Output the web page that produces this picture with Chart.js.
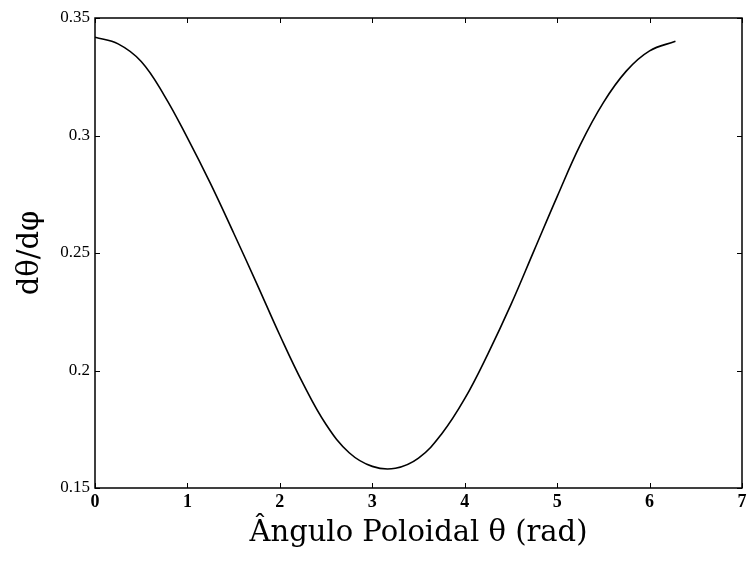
<!DOCTYPE html>
<html>
<head>
<meta charset="utf-8">
<script src="https://cdn.jsdelivr.net/npm/chart.js@4.4.1/dist/chart.umd.min.js"></script>
<style>
  html, body { margin: 0; padding: 0; background: #fff; }
  #wrap { width: 752px; height: 565px; }
</style>
</head>
<body>
<div id="wrap"><canvas id="c" width="752" height="565"></canvas></div>
<script>
// Poloidal angle theta (rad)
const theta = [0, 0.25, 0.5, 0.75, 1.0, 1.25, 1.5, 1.75, 2.0, 2.25, 2.5, 2.75, 3.0, 3.25, 3.5, 3.75, 4.0, 4.25, 4.5, 4.75, 5.0, 5.25, 5.5, 5.75, 6.0, 6.28];
// d theta / d phi
const dthetaDphi = [0.3418, 0.3390, 0.3315, 0.3170, 0.2990, 0.2795, 0.2585, 0.2370, 0.2150, 0.1945, 0.1770, 0.1650, 0.1592, 0.1584, 0.1627, 0.1730, 0.1880, 0.2070, 0.2280, 0.2510, 0.2740, 0.2960, 0.3140, 0.3275, 0.3360, 0.3401];
const xTickLabels = ['0', '1', '2', '3', '4', '5', '6', '7'];
const yTickLabels = ['0.15', '0.2', '0.25', '0.3', '0.35'];
const xTitle = 'Ângulo Poloidal θ (rad)';
const yTitle = 'dθ/dφ';

const points = theta.map((t, i) => ({ x: t, y: dthetaDphi[i] }));

const boxTicks = {
  id: 'boxTicks',
  afterDraw(chart) {
    const { ctx, chartArea: a, scales } = chart;
    ctx.save();
    ctx.strokeStyle = '#000';
    ctx.lineWidth = 1.5;
    ctx.strokeRect(a.left, a.top, a.right - a.left, a.bottom - a.top);
    ctx.lineWidth = 1;
    const L = 5;
    scales.x.ticks.forEach((t, i) => {
      const px = Math.round(scales.x.getPixelForTick(i)) + 0.5;
      ctx.beginPath();
      ctx.moveTo(px, a.bottom); ctx.lineTo(px, a.bottom - L);
      ctx.moveTo(px, a.top); ctx.lineTo(px, a.top + L);
      ctx.stroke();
    });
    scales.y.ticks.forEach((t, i) => {
      const py = Math.round(scales.y.getPixelForTick(i)) + 0.5;
      ctx.beginPath();
      ctx.moveTo(a.left, py); ctx.lineTo(a.left + L, py);
      ctx.moveTo(a.right, py); ctx.lineTo(a.right - L, py);
      ctx.stroke();
    });
    ctx.restore();
  }
};

new Chart(document.getElementById('c'), {
  type: 'scatter',
  data: {
    datasets: [{
      data: points,
      showLine: true,
      borderColor: '#000',
      borderWidth: 1.6,
      pointRadius: 0,
      tension: 0.4,
      fill: false
    }]
  },
  options: {
    responsive: false,
    animation: false,
    layout: { padding: { top: 18, right: 10, left: 0, bottom: 0 } },
    plugins: { legend: { display: false }, tooltip: { enabled: false } },
    scales: {
      x: {
        type: 'linear',
        min: 0, max: 7,
        afterFit(s) { s.height = 77; },
        ticks: {
          stepSize: 1,
          color: '#000',
          padding: 4,
          font: { family: 'Liberation Serif', size: 18, weight: 'bold' },
          callback: (v) => xTickLabels[Math.round(v)]
        },
        grid: { display: false, drawTicks: false, tickLength: 0 },
        border: { display: false },
        title: {
          display: true,
          text: xTitle,
          color: '#000',
          font: { family: 'DejaVu Serif', size: 29 },
          padding: { top: 0, bottom: 14 }
        }
      },
      y: {
        type: 'linear',
        min: 0.15, max: 0.35,
        afterFit(s) { s.width = 95; },
        ticks: {
          stepSize: 0.05,
          color: '#000',
          padding: 5,
          font: { family: 'Liberation Serif', size: 17 },
          callback: (v) => yTickLabels[Math.round((v - 0.15) / 0.05)]
        },
        grid: { display: false, drawTicks: false, tickLength: 0 },
        border: { display: false },
        title: {
          display: true,
          text: yTitle,
          color: '#000',
          font: { family: 'DejaVu Serif', size: 29 },
          padding: { top: 13, bottom: 0 }
        }
      }
    }
  },
  plugins: [boxTicks]
});
</script>
</body>
</html>
